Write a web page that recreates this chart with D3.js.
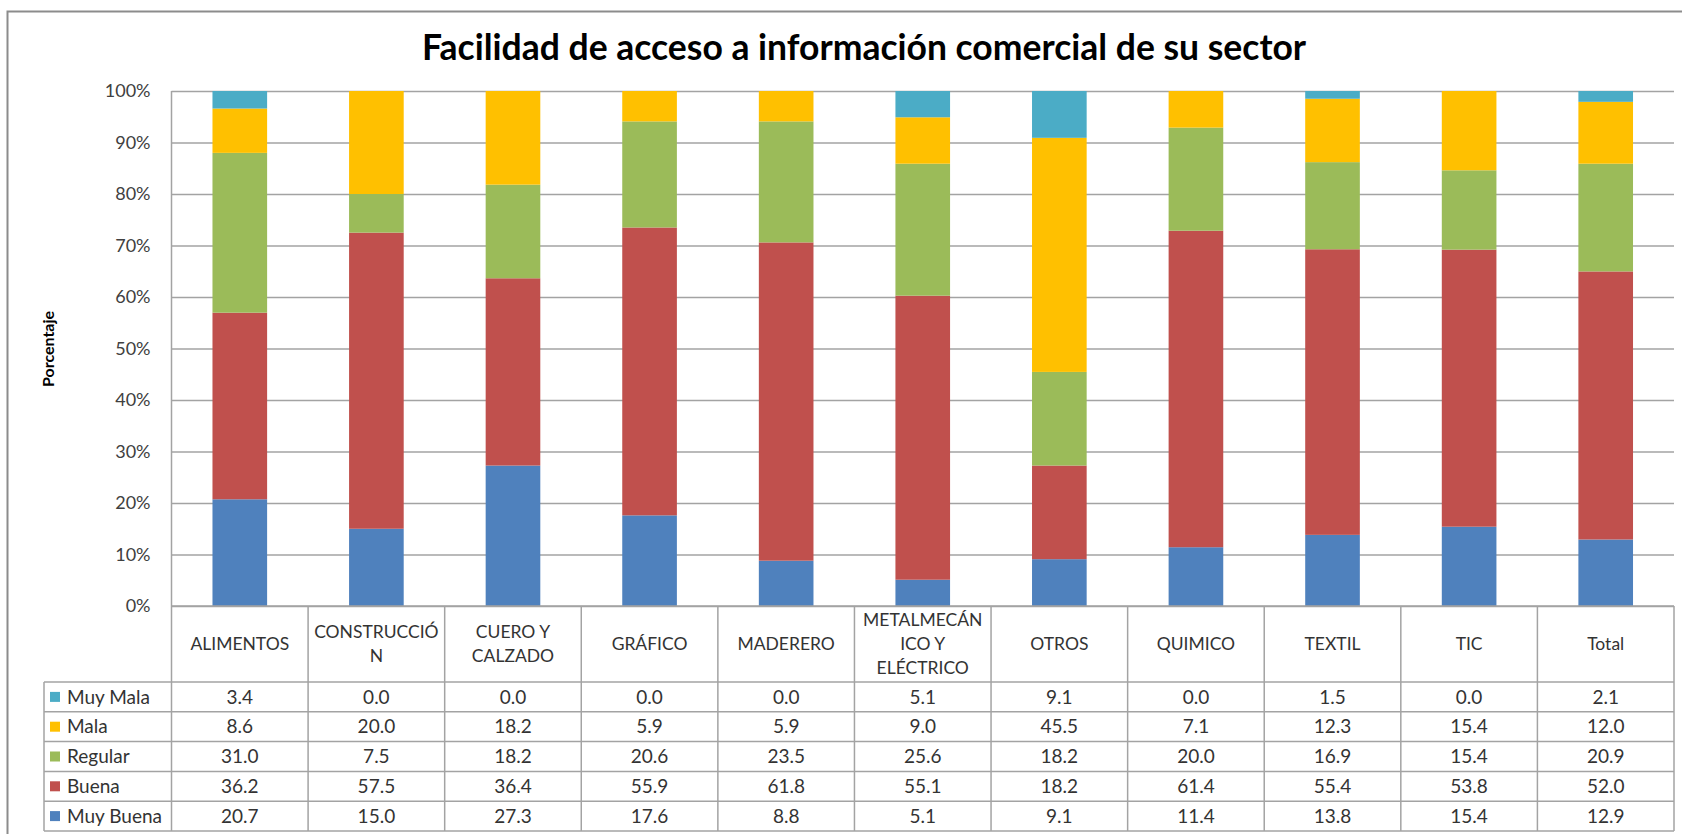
<!DOCTYPE html>
<html>
<head>
<meta charset="utf-8">
<script src="https://cdn.jsdelivr.net/npm/d3@7"></script>
<style>
  body { margin: 0; background: #fff; }
  text { font-family: Lato, "Noto Sans", sans-serif; }
</style>
</head>
<body>
<div id="chart"></div>
<script>
// sectors
var categories = ["ALIMENTOS", "CONSTRUCCIÓN", "CUERO Y CALZADO", "GRÁFICO", "MADERERO",
  "METALMECÁNICO Y ELÉCTRICO", "OTROS", "QUIMICO", "TEXTIL", "TIC", "Total"];
// how the header cells wrap in the original
var headerLines = [["ALIMENTOS"], ["CONSTRUCCIÓ", "N"], ["CUERO Y", "CALZADO"], ["GRÁFICO"],
  ["MADERERO"], ["METALMECÁN", "ICO Y", "ELÉCTRICO"], ["OTROS"], ["QUIMICO"], ["TEXTIL"], ["TIC"], ["Total"]];

var muyMala  = [3.4, 0.0, 0.0, 0.0, 0.0, 5.1, 9.1, 0.0, 1.5, 0.0, 2.1];
var mala     = [8.6, 20.0, 18.2, 5.9, 5.9, 9.0, 45.5, 7.1, 12.3, 15.4, 12.0];
var regular  = [31.0, 7.5, 18.2, 20.6, 23.5, 25.6, 18.2, 20.0, 16.9, 15.4, 20.9];
var buena    = [36.2, 57.5, 36.4, 55.9, 61.8, 55.1, 18.2, 61.4, 55.4, 53.8, 52.0];
var muyBuena = [20.7, 15.0, 27.3, 17.6, 8.8, 5.1, 9.1, 11.4, 13.8, 15.4, 12.9];

var seriesNames = ["Muy Buena", "Buena", "Regular", "Mala", "Muy Mala"]; // bottom to top
var seriesValues = [muyBuena, buena, regular, mala, muyMala];
var colors = ["#4F81BD", "#C0504D", "#9BBB59", "#FFC000", "#4BACC6"];
var yTicks = [0, 0.1, 0.2, 0.3, 0.4, 0.5, 0.6, 0.7, 0.8, 0.9, 1];

var W = 1682, H = 834;
var plotLeft = 171.5, plotRight = 1674, plotTop = 91, plotBottom = 606;
var tableBottom = 831, headerBottom = 682, legendLeft = 44;
var grid = "#a3a3a3", ink = "#333";

var svg = d3.select("#chart").append("svg")
  .attr("width", W)
  .attr("height", H);

svg.append("rect").attr("width", W).attr("height", H).attr("fill", "#fff");

// chart border (right side falls outside the picture)
svg.append("path")
  .attr("d", "M" + (W + 2) + ",11.5 H7.5 V" + (H + 2))
  .attr("fill", "none")
  .attr("stroke", "#8c8c8c")
  .attr("stroke-width", 2);

svg.append("text")
  .attr("x", 864)
  .attr("y", 60)
  .attr("text-anchor", "middle")
  .style("font-size", "35.5px")
  .style("font-weight", "bold")
  .attr("fill", "#000")
  .text("Facilidad de acceso a información comercial de su sector");

var x = d3.scaleBand().domain(categories).range([plotLeft, plotRight]).padding(0);
var y = d3.scaleLinear().domain([0, 1]).range([plotBottom, plotTop]);

// gridlines
svg.append("g")
  .attr("transform", "translate(" + plotLeft + ",0)")
  .call(d3.axisLeft(y).tickValues(yTicks).tickSize(-(plotRight - plotLeft)).tickFormat(""))
  .call(function(g) {
    g.select(".domain").remove();
    g.selectAll("line").attr("stroke", grid).attr("stroke-width", 1.5);
  });

// stacked percentages
var rows = categories.map(function(c, i) {
  var r = {cat: c};
  seriesNames.forEach(function(s, j) { r[s] = seriesValues[j][i]; });
  return r;
});
var stack = d3.stack().keys(seriesNames).offset(d3.stackOffsetExpand);
var layers = stack(rows);

var bw = x.bandwidth() * 0.4;
svg.append("g").selectAll("g")
  .data(layers)
  .enter().append("g")
  .attr("fill", function(d, i) { return colors[i]; })
  .selectAll("rect")
  .data(function(d) { return d; })
  .enter().append("rect")
  .attr("x", function(d) { return x(d.data.cat) + (x.bandwidth() - bw) / 2; })
  .attr("y", function(d) { return y(d[1]); })
  .attr("width", bw)
  .attr("height", function(d) { return y(d[0]) - y(d[1]); });

// y axis line + labels
svg.append("line")
  .attr("x1", plotLeft).attr("x2", plotLeft).attr("y1", plotTop).attr("y2", tableBottom)
  .attr("stroke", grid).attr("stroke-width", 1.5);

svg.append("g")
  .attr("transform", "translate(" + (plotLeft - 21) + ",0)")
  .call(d3.axisLeft(y).tickValues(yTicks).tickSize(0).tickFormat(d3.format(".0%")))
  .call(function(g) {
    g.select(".domain").remove();
    g.selectAll("text")
      .attr("x", 0)
      .style("font-size", "18px")
      .style("font-family", "Lato, sans-serif")
      .attr("fill", "#404040");
  });

svg.append("text")
  .attr("transform", "translate(54,349) rotate(-90)")
  .attr("text-anchor", "middle")
  .style("font-size", "16px")
  .style("font-weight", "bold")
  .attr("fill", "#000")
  .text("Porcentaje");

// data table
var tableOrder = ["Muy Mala", "Mala", "Regular", "Buena", "Muy Buena"];
var rowY = d3.scaleBand().domain(tableOrder).range([headerBottom, tableBottom]);

var tbl = svg.append("g");

// horizontal lines
tbl.append("line")
  .attr("x1", plotLeft).attr("x2", plotRight).attr("y1", plotBottom).attr("y2", plotBottom)
  .attr("stroke", grid).attr("stroke-width", 1.5);
tbl.selectAll("line.row")
  .data(tableOrder.concat(["end"]))
  .enter().append("line")
  .attr("class", "row")
  .attr("x1", legendLeft).attr("x2", plotRight)
  .attr("y1", function(d) { return d === "end" ? tableBottom : rowY(d); })
  .attr("y2", function(d) { return d === "end" ? tableBottom : rowY(d); })
  .attr("stroke", grid).attr("stroke-width", 1.5);

// vertical lines
tbl.selectAll("line.col")
  .data(categories)
  .enter().append("line")
  .attr("class", "col")
  .attr("x1", function(d) { return x(d) + x.bandwidth(); })
  .attr("x2", function(d) { return x(d) + x.bandwidth(); })
  .attr("y1", plotBottom).attr("y2", tableBottom)
  .attr("stroke", grid).attr("stroke-width", 1.5);
tbl.append("line")
  .attr("x1", legendLeft).attr("x2", legendLeft).attr("y1", headerBottom).attr("y2", tableBottom)
  .attr("stroke", grid).attr("stroke-width", 1.5);

// header labels
var headerMid = (plotBottom + headerBottom) / 2;
categories.forEach(function(c, i) {
  var lines = headerLines[i];
  var t = tbl.append("text")
    .attr("text-anchor", "middle")
    .style("font-size", "17.5px")
    .attr("fill", ink);
  lines.forEach(function(l, k) {
    t.append("tspan")
      .attr("x", x(c) + x.bandwidth() / 2)
      .attr("y", headerMid + (k - (lines.length - 1) / 2) * 24)
      .attr("dy", "0.35em")
      .text(l);
  });
});

// rows
tableOrder.forEach(function(s) {
  var j = seriesNames.indexOf(s);
  var cy = rowY(s) + rowY.bandwidth() / 2;
  tbl.append("rect")
    .attr("x", 50).attr("y", cy - 5).attr("width", 10).attr("height", 10)
    .attr("fill", colors[j]);
  tbl.append("text")
    .attr("x", 67).attr("y", cy).attr("dy", "0.35em")
    .style("font-size", "19px")
    .attr("fill", ink)
    .text(s);
  tbl.selectAll(null)
    .data(seriesValues[j])
    .enter().append("text")
    .attr("x", function(d, i) { return x(categories[i]) + x.bandwidth() / 2; })
    .attr("y", cy).attr("dy", "0.35em")
    .attr("text-anchor", "middle")
    .style("font-size", "19px")
    .attr("fill", ink)
    .text(function(d) { return d.toFixed(1); });
});
</script>
</body>
</html>
